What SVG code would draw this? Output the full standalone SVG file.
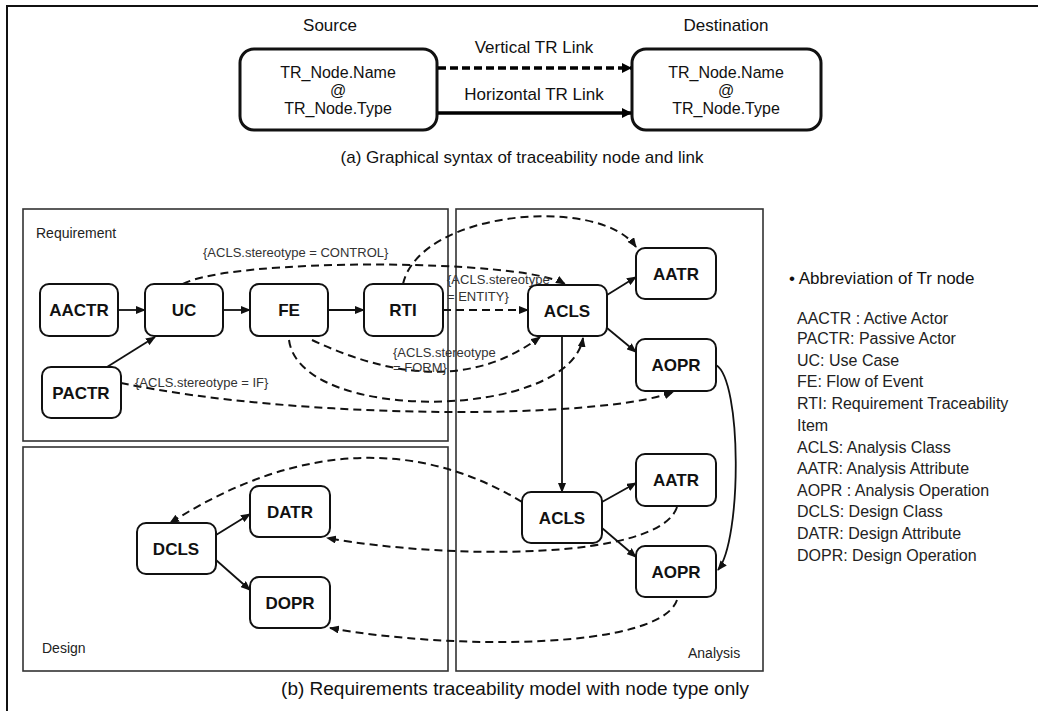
<svg xmlns="http://www.w3.org/2000/svg" width="1038" height="711" viewBox="0 0 1038 711">
  <style>
    text { font-family: "Liberation Sans", Arial, sans-serif; fill: #111; }
    .hdr { font-size: 17px; }
    .cap { font-size: 17px; }
    .capb { font-size: 19px; }
    .bx { font-size: 16px; }
    .nd { fill: #fff; stroke: #111; stroke-width: 2; }
    .big { fill: #fff; stroke: #111; stroke-width: 3; }
    .nl { font-size: 17px; font-weight: bold; text-anchor: middle; }
    .panel { fill: none; stroke: #333; stroke-width: 1.6; }
    .pl { font-size: 14px; fill: #222; }
    .lbl { font-size: 13px; fill: #333; }
    .leg { font-size: 16px; fill: #222; }
    .solid { fill: none; stroke: #111; stroke-width: 1.8; marker-end: url(#ah); }
    .dash { fill: none; stroke: #111; stroke-width: 2; stroke-dasharray: 8 5; marker-end: url(#ah); }
    .tdash { fill: none; stroke: #000; stroke-width: 3.5; stroke-dasharray: 8 4; marker-end: url(#ahb); }
    .tsolid { fill: none; stroke: #000; stroke-width: 3.5; marker-end: url(#ahb); }
  </style>
  <defs>
    <marker id="ah" markerUnits="userSpaceOnUse" markerWidth="10" markerHeight="8" refX="9" refY="4" orient="auto">
      <path d="M0,0 L10,4 L0,8 z" fill="#111"/>
    </marker>
    <marker id="ahb" markerUnits="userSpaceOnUse" markerWidth="10" markerHeight="10" refX="9" refY="5" orient="auto">
      <path d="M0,0 L10,5 L0,10 z" fill="#000"/>
    </marker>
  </defs>

  <rect width="1038" height="711" fill="#fff"/>
  <!-- outer frame -->
  <path d="M7,711 L7,6 L1038,6" fill="none" stroke="#111" stroke-width="2"/>

  <!-- (a) graphical syntax -->
  <g id="syntax-source">
    <text class="hdr" x="330" y="31" text-anchor="middle">Source</text>
    <rect class="big" x="240" y="49" width="197" height="81" rx="14"/>
    <text class="bx" x="338" y="78" text-anchor="middle">TR_Node.Name</text>
    <text class="bx" x="338" y="96" text-anchor="middle">@</text>
    <text class="bx" x="338" y="114" text-anchor="middle">TR_Node.Type</text>
  </g>
  <g id="syntax-destination">
    <text class="hdr" x="726" y="31" text-anchor="middle">Destination</text>
    <rect class="big" x="632" y="49" width="189" height="81" rx="14"/>
    <text class="bx" x="726" y="78" text-anchor="middle">TR_Node.Name</text>
    <text class="bx" x="726" y="96" text-anchor="middle">@</text>
    <text class="bx" x="726" y="114" text-anchor="middle">TR_Node.Type</text>
  </g>
  <g id="syntax-links">
    <text class="hdr" x="534" y="53" text-anchor="middle">Vertical TR Link</text>
    <path class="tdash" d="M438,68 L631,68"/>
    <text class="hdr" x="534" y="100" text-anchor="middle">Horizontal TR Link</text>
    <path class="tsolid" d="M438,113 L631,113"/>
  </g>
  <text class="cap" x="522" y="163" text-anchor="middle">(a) Graphical syntax of traceability node and link</text>

  <!-- (b) panels -->
  <g id="panel-requirement">
    <rect class="panel" x="23" y="209" width="425" height="232"/>
    <text class="pl" x="36" y="238">Requirement</text>
  </g>
  <g id="panel-design">
    <rect class="panel" x="23" y="447" width="425" height="224"/>
    <text class="pl" x="42" y="653">Design</text>
  </g>
  <g id="panel-analysis">
    <rect class="panel" x="456" y="209" width="307" height="462"/>
    <text class="pl" x="688" y="658">Analysis</text>
  </g>

  <!-- connectors -->
  <g id="connectors">
    <path class="solid" d="M118,310 L145,310"/>
    <path class="solid" d="M223,310 L250,310"/>
    <path class="solid" d="M328,310 L364,310"/>
    <path class="solid" d="M107,367 L155,337"/>
    <path class="dash" d="M183,284 C230,258 520,258 565,284"/>
    <path class="dash" d="M403,284 C420,210 600,195 636,247"/>
    <path class="dash" d="M443,310 L528,310"/>
    <path class="dash" d="M312,340 Q450,405 540,337"/>
    <path class="dash" d="M289,340 C300,425 570,420 583,338"/>
    <path class="dash" d="M121,383 C300,420 600,420 673,392"/>
    <path class="solid" d="M607,295 L636,277"/>
    <path class="solid" d="M607,328 L636,352"/>
    <path class="solid" d="M562,337 L562,492"/>
    <path class="solid" d="M716,365 C742,380 742,540 718,570"/>
    <path class="solid" d="M602,502 L636,483"/>
    <path class="solid" d="M602,528 L636,557"/>
    <path class="dash" d="M522,502 C420,440 300,440 170,523"/>
    <path class="dash" d="M677,507 C660,560 450,560 327,538"/>
    <path class="dash" d="M677,600 C660,650 450,650 330,628"/>
    <path class="solid" d="M216,535 L250,514"/>
    <path class="solid" d="M216,560 L250,590"/>
  </g>

  <!-- link labels -->
  <text class="lbl" x="203" y="257">{ACLS.stereotype = CONTROL}</text>
  <text class="lbl" x="447" y="284">{ACLS.stereotype</text>
  <text class="lbl" x="447" y="301">= ENTITY}</text>
  <text class="lbl" x="393" y="357">{ACLS.stereotype</text>
  <text class="lbl" x="393" y="372">= FORM}</text>
  <text class="lbl" x="135" y="387">{ACLS.stereotype = IF}</text>

  <!-- requirement nodes -->
  <g id="AACTR"><rect class="nd" x="40" y="284" width="78" height="52" rx="9"/><text class="nl" x="79" y="316">AACTR</text></g>
  <g id="UC"><rect class="nd" x="145" y="284" width="78" height="52" rx="9"/><text class="nl" x="184" y="316">UC</text></g>
  <g id="FE"><rect class="nd" x="250" y="284" width="78" height="52" rx="9"/><text class="nl" x="289" y="316">FE</text></g>
  <g id="RTI"><rect class="nd" x="364" y="284" width="79" height="52" rx="9"/><text class="nl" x="403" y="316">RTI</text></g>
  <g id="PACTR"><rect class="nd" x="42" y="367" width="79" height="51" rx="9"/><text class="nl" x="81" y="399">PACTR</text></g>

  <!-- analysis nodes -->
  <g id="ACLS-1"><rect class="nd" x="528" y="285" width="79" height="51" rx="9"/><text class="nl" x="567" y="317">ACLS</text></g>
  <g id="AATR-1"><rect class="nd" x="636" y="248" width="80" height="51" rx="9"/><text class="nl" x="676" y="280">AATR</text></g>
  <g id="AOPR-1"><rect class="nd" x="636" y="339" width="80" height="52" rx="9"/><text class="nl" x="676" y="371">AOPR</text></g>
  <g id="ACLS-2"><rect class="nd" x="522" y="492" width="80" height="51" rx="9"/><text class="nl" x="562" y="524">ACLS</text></g>
  <g id="AATR-2"><rect class="nd" x="636" y="454" width="80" height="52" rx="9"/><text class="nl" x="676" y="486">AATR</text></g>
  <g id="AOPR-2"><rect class="nd" x="636" y="546" width="80" height="51" rx="9"/><text class="nl" x="676" y="578">AOPR</text></g>

  <!-- design nodes -->
  <g id="DCLS"><rect class="nd" x="137" y="523" width="79" height="51" rx="9"/><text class="nl" x="176" y="555">DCLS</text></g>
  <g id="DATR"><rect class="nd" x="250" y="486" width="80" height="51" rx="9"/><text class="nl" x="290" y="518">DATR</text></g>
  <g id="DOPR"><rect class="nd" x="250" y="577" width="80" height="51" rx="9"/><text class="nl" x="290" y="609">DOPR</text></g>

  <text class="capb" x="515" y="695" text-anchor="middle">(b) Requirements traceability model with node type only</text>

  <!-- abbreviation legend -->
  <g id="legend">
    <text x="789" y="284" style="font-size:17px">• Abbreviation  of Tr node</text>
    <text class="leg" x="797" y="324">AACTR : Active Actor</text>
    <text class="leg" x="797" y="344">PACTR:  Passive Actor</text>
    <text class="leg" x="797" y="366">UC: Use Case</text>
    <text class="leg" x="797" y="387">FE: Flow of Event</text>
    <text class="leg" x="797" y="409">RTI: Requirement  Traceability</text>
    <text class="leg" x="797" y="431">Item</text>
    <text class="leg" x="797" y="453">ACLS: Analysis Class</text>
    <text class="leg" x="797" y="474">AATR: Analysis Attribute</text>
    <text class="leg" x="797" y="496">AOPR : Analysis Operation</text>
    <text class="leg" x="797" y="517">DCLS: Design Class</text>
    <text class="leg" x="797" y="539">DATR: Design Attribute</text>
    <text class="leg" x="797" y="561">DOPR: Design Operation</text>
  </g>
</svg>
